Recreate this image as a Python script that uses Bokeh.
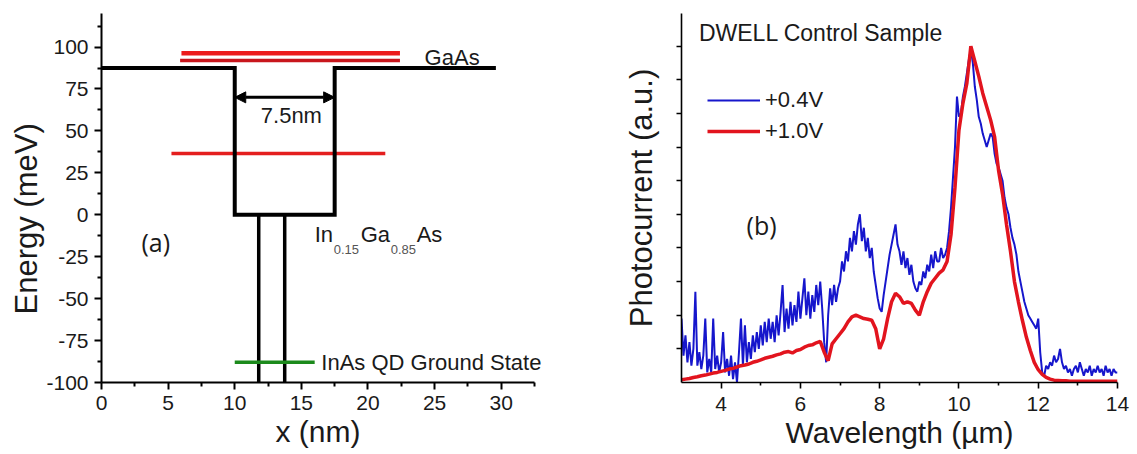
import numpy as np
from bokeh.plotting import figure
from bokeh.layouts import row
from bokeh.models import (Range1d, FixedTicker, Label, Arrow, NormalHead,
                          Legend, LegendItem, Title)
from bokeh.embed import file_html
from bokeh.resources import INLINE

SANS = "Liberation Sans"
INK = "#1a1a1a"

# ---------------- panel (a): conduction-band diagram ----------------
# well profile: x in nm, energy in meV
profile_x = [0, 10, 10, 17.5, 17.5, 29.6]
profile_e = [87.5, 87.5, 0, 0, 87.5, 87.5]
# InAs dot walls inside the well
dot_walls_x = [11.8, 13.75]
dot_top_e = [0, 0]
dot_bottom_e = [-105, -105]
# confined / continuum levels
gaas_levels_e = [96.3, 92.0]
gaas_levels_x0 = [6.0, 5.9]
gaas_levels_x1 = [22.4, 22.4]
well_level_e = [36.5, 36.5]
well_level_x = [5.25, 21.3]
qd_ground_e = [-88, -88]
qd_ground_x = [10.0, 16.0]
# well width marker
well_width_x = [10, 17.5]
well_width_e = 70

energy_ticks = [-100, -75, -50, -25, 0, 25, 50, 75, 100]
energy_minor = [-87.5, -62.5, -37.5, -12.5, 12.5, 37.5, 62.5, 87.5, 112.5]
pos_ticks = [0, 5, 10, 15, 20, 25, 30]
pos_minor = [2.5, 7.5, 12.5, 17.5, 22.5, 27.5, 32.5]

# ---------------- panel (b): photocurrent spectra ----------------
wl_ticks = [4, 6, 8, 10, 12, 14]
wl_minor = [5, 7, 9, 11, 13]
# unlabelled photocurrent ticks (arbitrary units)
pc_ticks = [0.1, 0.2, 0.3, 0.4, 0.5, 0.6, 0.7, 0.8, 0.9, 1.0]

# +0.4 V, sampled every 0.05 um from 3 to 14 um
pc_04v = [
    0.19, 0.08, 0.14, 0.06, 0.12, 0.05, 0.10, 0.27, 0.05, 0.09,
    0.04, 0.08, 0.19, 0.03, 0.07, 0.03, 0.19, 0.04, 0.08, 0.03,
    0.06, 0.15, 0.03, 0.07, 0.02, 0.08, 0.01, 0.06, 0.00, 0.09,
    0.19, 0.05, 0.17, 0.06, 0.12, 0.07, 0.14, 0.09, 0.15, 0.10,
    0.17, 0.11, 0.18, 0.12, 0.19, 0.13, 0.18, 0.12, 0.20, 0.14,
    0.21, 0.29, 0.15, 0.22, 0.16, 0.24, 0.17, 0.23, 0.18, 0.27,
    0.19, 0.25, 0.31, 0.20, 0.27, 0.19, 0.26, 0.21, 0.29, 0.23,
    0.30, 0.22, 0.12, 0.06, 0.20, 0.28, 0.23, 0.29, 0.24, 0.28,
    0.30, 0.36, 0.33, 0.39, 0.36, 0.43, 0.39, 0.45, 0.41, 0.47,
    0.50, 0.42, 0.46, 0.39, 0.43, 0.37, 0.40, 0.33, 0.29, 0.25,
    0.22, 0.21, 0.26, 0.30, 0.34, 0.38, 0.41, 0.44, 0.47, 0.41,
    0.39, 0.35, 0.39, 0.34, 0.37, 0.32, 0.35, 0.30, 0.28, 0.27,
    0.30, 0.29, 0.33, 0.31, 0.35, 0.33, 0.38, 0.34, 0.39, 0.36,
    0.36, 0.40, 0.37, 0.38, 0.40, 0.45, 0.52, 0.61, 0.70, 0.85,
    0.79, 0.80, 0.85, 0.88, 0.92, 0.96, 0.99, 0.95, 0.88, 0.84,
    0.79, 0.77, 0.74, 0.72, 0.70, 0.72, 0.74, 0.73, 0.68, 0.65,
    0.64, 0.62, 0.60, 0.55, 0.52, 0.50, 0.46, 0.43, 0.41, 0.38,
    0.33, 0.30, 0.27, 0.24, 0.22, 0.20, 0.19, 0.18, 0.17, 0.16,
    0.19, 0.09, 0.03, 0.02, 0.05, 0.04, 0.06, 0.05, 0.08, 0.06,
    0.07, 0.10, 0.06, 0.04, 0.05, 0.03, 0.04, 0.02, 0.04, 0.05,
    0.03, 0.06, 0.04, 0.02, 0.04, 0.03, 0.05, 0.02, 0.04, 0.03,
    0.05, 0.03, 0.04, 0.02, 0.05, 0.03, 0.04, 0.02, 0.04, 0.03,
    0.03,
]
# +1.0 V, sampled every 0.1 um from 3 to 14 um
pc_10v = [
    0.008, 0.010, 0.012, 0.015, 0.017, 0.020, 0.022, 0.025, 0.028, 0.030,
    0.033, 0.036, 0.040, 0.042, 0.046, 0.050, 0.052, 0.055, 0.060, 0.063,
    0.067, 0.072, 0.075, 0.078, 0.082, 0.085, 0.090, 0.092, 0.088, 0.095,
    0.098, 0.105, 0.110, 0.112, 0.118, 0.122, 0.090, 0.065, 0.115, 0.130,
    0.145, 0.160, 0.180, 0.195, 0.200, 0.195, 0.190, 0.188, 0.185, 0.160,
    0.100, 0.130, 0.190, 0.240, 0.265, 0.255, 0.235, 0.240, 0.235, 0.215,
    0.200, 0.240, 0.270, 0.295, 0.310, 0.325, 0.335, 0.360, 0.440, 0.580,
    0.750, 0.830, 0.890, 1.000, 0.955, 0.910, 0.860, 0.820, 0.780, 0.730,
    0.630, 0.560, 0.470, 0.390, 0.300, 0.240, 0.185, 0.135, 0.095, 0.060,
    0.038, 0.024, 0.015, 0.010, 0.007, 0.006, 0.005, 0.005, 0.004, 0.004,
    0.004, 0.004, 0.004, 0.004, 0.004, 0.004, 0.004, 0.004, 0.004, 0.004,
    0.004,
]
wl_04v = np.linspace(3.0, 14.0, len(pc_04v))
wl_10v = np.linspace(3.0, 14.0, len(pc_10v))


def style_axes(p, lw, tick_out, minor_out, label_size, standoff):
    for ax in p.axis:
        ax.axis_line_width = lw
        ax.axis_line_color = "black"
        ax.major_tick_line_width = lw
        ax.minor_tick_line_width = lw
        ax.major_tick_line_color = "black"
        ax.minor_tick_line_color = "black"
        ax.major_tick_in = 0
        ax.minor_tick_in = 0
        ax.major_tick_out = tick_out
        ax.minor_tick_out = minor_out
        ax.major_label_text_font = SANS
        ax.major_label_text_font_size = label_size
        ax.major_label_text_color = INK
        ax.major_label_standoff = standoff


def add_text(p, x, y, text, size, align="left", baseline="middle",
             font=SANS, angle=0, color=INK, x_offset=0):
    p.add_layout(Label(x=x, y=y, text=text, text_font=font,
                       text_font_size=size, text_align=align,
                       text_baseline=baseline, angle=angle,
                       text_color=color, x_offset=x_offset))


def side_title(p, text, side, offset, size, standoff=0):
    p.add_layout(Title(text=text, align="left", offset=offset,
                       text_font=SANS, text_font_size=size,
                       text_font_style="normal", text_color=INK,
                       standoff=standoff), side)


# ---------------- figure (a) ----------------
pa = figure(width=580, height=454, x_range=Range1d(0, 35.5),
            y_range=Range1d(-100, 120), output_backend="svg",
            toolbar_location=None, min_border_left=101,
            min_border_right=6, min_border_top=13, min_border_bottom=70)
pa.outline_line_color = None
pa.grid.visible = False
pa.background_fill_color = "white"
pa.border_fill_color = "white"
pa.xaxis.ticker = FixedTicker(ticks=pos_ticks, minor_ticks=pos_minor)
pa.xaxis.bounds = (0, 32.5)
pa.yaxis.ticker = FixedTicker(ticks=energy_ticks, minor_ticks=energy_minor)
pa.yaxis.major_label_overrides = {t: str(t) for t in energy_ticks if t < 0}
style_axes(pa, 2, 7, 4, "21px", 6)

pa.segment(x0=gaas_levels_x0[:1], y0=gaas_levels_e[:1],
           x1=gaas_levels_x1[:1], y1=gaas_levels_e[:1],
           line_color="#ec1c1c", line_width=4.5)
pa.segment(x0=gaas_levels_x0[1:], y0=gaas_levels_e[1:],
           x1=gaas_levels_x1[1:], y1=gaas_levels_e[1:],
           line_color="#c8161c", line_width=3.5)
pa.line(well_level_x, well_level_e, line_color="#e41e1e", line_width=3.5)
pa.line(profile_x, profile_e, line_color="black", line_width=4,
        line_join="miter")
pa.segment(x0=dot_walls_x, y0=dot_top_e, x1=dot_walls_x, y1=dot_bottom_e,
           line_color="black", line_width=3.5)
pa.line(qd_ground_x, qd_ground_e, line_color="#1c8a1c", line_width=3.5)

pa.add_layout(Arrow(start=NormalHead(size=11, fill_color="black",
                                     line_color="black"),
                    end=NormalHead(size=11, fill_color="black",
                                   line_color="black"),
                    x_start=well_width_x[0], y_start=well_width_e,
                    x_end=well_width_x[1], y_end=well_width_e,
                    line_width=3, line_color="black"))

add_text(pa, 14.25, 59.1, "7.5nm", "22px", align="center")
add_text(pa, 24.25, 93.9, "GaAs", "22px")
add_text(pa, 16.5, -88, "InAs QD Ground State", "22px")
add_text(pa, 4.07, -16.2, "(a)", "25px", align="center", font="Open Sans")
# In(0.15)Ga(0.85)As with subscripts
add_text(pa, 16.0, -11.7, "In", "22px")
add_text(pa, 16.0, -20.7, "0.15", "13px", x_offset=19, color="#555555")
add_text(pa, 16.0, -11.7, "Ga", "22px", x_offset=46)
add_text(pa, 16.0, -20.7, "0.85", "13px", x_offset=76, color="#555555")
add_text(pa, 16.0, -11.7, "As", "22px", x_offset=102)
# axis titles
side_title(pa, "Energy (meV)", "left", 68, "31px", standoff=0)
side_title(pa, "x (nm)", "below", 174, "30px")

# ---------------- figure (b) ----------------
pb = figure(width=557, height=454, x_range=Range1d(3, 14),
            y_range=Range1d(0, 1.097), output_backend="svg",
            toolbar_location=None, min_border_left=101,
            min_border_right=20, min_border_top=7, min_border_bottom=72)
pb.outline_line_color = None
pb.grid.visible = False
pb.background_fill_color = "white"
pb.border_fill_color = "white"
pb.xaxis.ticker = FixedTicker(ticks=wl_ticks, minor_ticks=wl_minor)
# photocurrent axis carries tick marks only, no numbers
pb.yaxis.ticker = FixedTicker(ticks=[], minor_ticks=pc_ticks)
style_axes(pb, 1.6, 6, 3, "21px", 8)
pb.yaxis.minor_tick_out = 5
pb.yaxis.axis_label = "Photocurrent (a.u.)"
pb.yaxis.axis_label_text_font = SANS
pb.yaxis.axis_label_text_font_size = "31px"
pb.yaxis.axis_label_text_font_style = "normal"
pb.yaxis.axis_label_text_color = INK
pb.yaxis.axis_label_standoff = 18
pb.xaxis.axis_label = "Wavelength (µm)"
pb.xaxis.axis_label_text_font = SANS
pb.xaxis.axis_label_text_font_size = "30px"
pb.xaxis.axis_label_text_font_style = "normal"
pb.xaxis.axis_label_text_color = INK
pb.xaxis.axis_label_standoff = 2

r_04 = pb.line(wl_04v, pc_04v, line_color="#1616cc", line_width=2)
r_10 = pb.line(wl_10v, pc_10v, line_color="#e2141e", line_width=3.5)

legend = Legend(items=[LegendItem(label="+0.4V", renderers=[r_04]),
                       LegendItem(label="+1.0V", renderers=[r_10])],
                location=(26, 237), glyph_width=53, glyph_height=28,
                label_height=28, spacing=3, padding=0, margin=0,
                label_standoff=5, border_line_color=None,
                background_fill_alpha=0, label_text_font=SANS,
                label_text_font_size="22px", label_text_color=INK)
pb.add_layout(legend)

add_text(pb, 3.44, 1.039, "DWELL Control Sample", "23px")
add_text(pb, 5.02, 0.468, "(b)", "25px", align="center", font="Open Sans")

layout = row(pa, pb)
open("out.html", "w").write(file_html(layout, INLINE))
